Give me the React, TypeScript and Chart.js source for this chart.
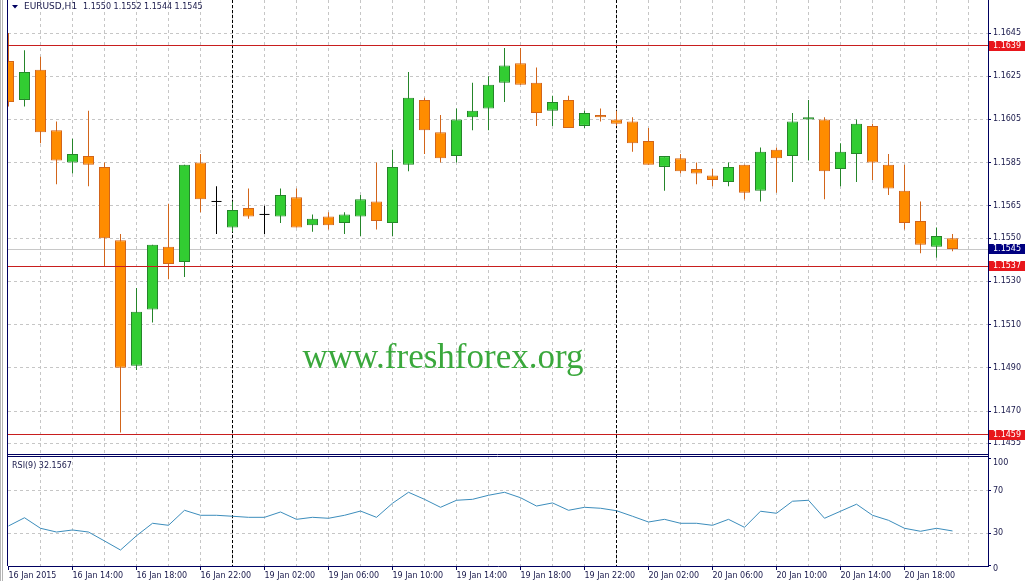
import React, { useEffect, useRef } from 'react';
import { Chart, registerables } from 'chart.js';

Chart.register(...registerables);

// ---------------- data ----------------
const symbolTitle = 'EURUSD,H1';
const lastBarQuote = ['1.1550', '1.1552', '1.1544', '1.1545'];
const rsiTitle = 'RSI(9) 32.1567';
const watermarkText = 'www.freshforex.org';

const opens = [1.1632, 1.1614, 1.1628, 1.1600, 1.1585, 1.1588, 1.1583, 1.1549, 1.1491, 1.1517, 1.1546, 1.1539, 1.1585, 1.1567, 1.1555, 1.1564, 1.1561, 1.1560, 1.1569, 1.1556, 1.1560, 1.1557, 1.1560, 1.1567, 1.1557, 1.1584, 1.1614, 1.1599, 1.1588, 1.1606, 1.1610, 1.1622, 1.1631, 1.1622, 1.1609, 1.1614, 1.1602, 1.1607, 1.1605, 1.1604, 1.1595, 1.1583, 1.1587, 1.1582, 1.1579, 1.1576, 1.1584, 1.1572, 1.1591, 1.1588, 1.1605, 1.1605, 1.1582, 1.1589, 1.1602, 1.1584, 1.1572, 1.1558, 1.1546, 1.1550];
const highs = [1.1645, 1.1637, 1.1634, 1.1604, 1.1596, 1.1609, 1.1585, 1.1552, 1.1527, 1.1547, 1.1566, 1.1584, 1.1589, 1.1574, 1.1567, 1.1573, 1.1565, 1.1573, 1.1573, 1.1561, 1.1562, 1.1562, 1.1570, 1.1585, 1.1591, 1.1627, 1.1615, 1.1607, 1.1610, 1.1622, 1.1625, 1.1638, 1.1638, 1.1629, 1.1616, 1.1616, 1.1609, 1.1610, 1.1609, 1.1606, 1.1601, 1.1588, 1.1589, 1.1585, 1.1582, 1.1585, 1.1584, 1.1592, 1.1592, 1.1608, 1.1614, 1.1606, 1.1594, 1.1605, 1.1603, 1.1589, 1.1584, 1.1567, 1.1555, 1.1552];
const lows = [1.1611, 1.1611, 1.1594, 1.1575, 1.1580, 1.1574, 1.1537, 1.1460, 1.1489, 1.1511, 1.1531, 1.1532, 1.1562, 1.1552, 1.1553, 1.1559, 1.1552, 1.1557, 1.1555, 1.1553, 1.1554, 1.1552, 1.1551, 1.1554, 1.1551, 1.1581, 1.1589, 1.1585, 1.1585, 1.1600, 1.1600, 1.1613, 1.1621, 1.1602, 1.1602, 1.1601, 1.1601, 1.1604, 1.1602, 1.1590, 1.1584, 1.1572, 1.1580, 1.1575, 1.1574, 1.1574, 1.1568, 1.1567, 1.1571, 1.1576, 1.1586, 1.1568, 1.1574, 1.1576, 1.1577, 1.1570, 1.1554, 1.1543, 1.1541, 1.1544];
const closes = [1.1613, 1.1627, 1.1599, 1.1586, 1.1589, 1.1584, 1.1550, 1.1490, 1.1516, 1.1547, 1.1538, 1.1584, 1.1568, 1.1567, 1.1563, 1.1560, 1.1561, 1.1570, 1.1555, 1.1559, 1.1556, 1.1561, 1.1568, 1.1558, 1.1583, 1.1615, 1.1600, 1.1587, 1.1605, 1.1609, 1.1621, 1.1630, 1.1621, 1.1608, 1.1613, 1.1601, 1.1608, 1.1606, 1.1603, 1.1594, 1.1584, 1.1588, 1.1581, 1.1580, 1.1577, 1.1583, 1.1571, 1.1590, 1.1587, 1.1604, 1.1606, 1.1581, 1.1590, 1.1603, 1.1585, 1.1573, 1.1557, 1.1547, 1.1551, 1.1545];
const rsiValues = [36.9, 44.6, 34.7, 31.2, 33.1, 31.2, 22.8, 14.3, 27.7, 39.4, 37.5, 51.6, 46.9, 46.9, 46.0, 45.0, 45.0, 50.0, 43.1, 45.0, 44.1, 46.9, 50.9, 45.0, 58.2, 68.5, 61.9, 54.4, 61.0, 61.9, 65.7, 68.5, 63.4, 55.6, 58.5, 51.6, 54.4, 53.5, 51.2, 46.0, 40.6, 43.1, 39.4, 39.4, 37.5, 43.1, 35.6, 50.7, 48.8, 60.1, 61.0, 44.1, 50.7, 57.3, 46.9, 42.2, 34.7, 31.9, 34.7, 32.2];

const timeTickBars = [0, 4, 8, 12, 16, 20, 24, 28, 32, 36, 40, 44, 48, 52, 56];
const timeTickLabels = ['16 Jan 2015', '16 Jan 14:00', '16 Jan 18:00', '16 Jan 22:00', '19 Jan 02:00', '19 Jan 06:00', '19 Jan 10:00', '19 Jan 14:00', '19 Jan 18:00', '19 Jan 22:00', '20 Jan 02:00', '20 Jan 06:00', '20 Jan 10:00', '20 Jan 14:00', '20 Jan 18:00'];
const gridBarStep = 2;
const daySeparatorBars = [14, 38];
const priceTicks = [1.1645, 1.1625, 1.1605, 1.1585, 1.1565, 1.1550, 1.1530, 1.1510, 1.1490, 1.1470, 1.1455];
const rsiTicks = [100, 70, 30, 0];
const rsiGridLevels = [70, 30];
const levelPrices = [1.1639, 1.1537, 1.1459];
const currentPrice = 1.1545;

const priceMin = 1.144963;
const priceMax = 1.166028;
const rsiMin = -0.7;
const rsiMax = 103.5;
const barMin = -0.03125;
const barMax = 61.21875;

// ---------------- styles ----------------
const FONT = '"DejaVu Sans"';
const NAVY = '#000060';
const TEXT = '#18184a';
const GRID = '#c6c6c6';
const GREEN_FILL = '#32cd32';
const GREEN_LINE = '#25852a';
const ORANGE_FILL = '#ff8c00';
const ORANGE_LINE = '#d2651a';
const LEVEL_LINE = '#c81e1e';
const LEVEL_BOX = '#e8161b';
const RSI_COLOR = '#3c8dbc';

export default function App() {
  const ref = useRef<HTMLCanvasElement>(null);

  useEffect(() => {
    const canvas = ref.current;
    if (!canvas) return;
    const idx = opens.map((_, i) => i);
    const isDoji = (i: number) => opens[i] === closes[i];
    const isUp = (i: number) => closes[i] > opens[i];
    const bodyIdx = idx.filter((i) => !isDoji(i));
    const dojiIdx = idx.filter((i) => isDoji(i));
    const gridBars: number[] = [];
    for (let b = 0; b <= barMax; b += gridBarStep) gridBars.push(b);

    const noPad = (s: any) => {
      s.paddingTop = 0;
      s.paddingBottom = 0;
      s.paddingLeft = 0;
      s.paddingRight = 0;
    };

    const plugin = {
      id: 'mt4',
      beforeDraw(chart: any) {
        const { ctx, width, height } = chart;
        ctx.save();
        ctx.fillStyle = '#ffffff';
        ctx.fillRect(0, 0, width, height);
        ctx.restore();
      },
      beforeDatasetsDraw(chart: any) {
        const { ctx, chartArea, scales } = chart;
        const x = scales.x;
        const y = scales.y;
        ctx.save();
        // watermark
        ctx.font = '35px "Liberation Serif"';
        ctx.fillStyle = '#3aa83c';
        ctx.textAlign = 'center';
        ctx.textBaseline = 'alphabetic';
        ctx.fillText(watermarkText, 443, 368);
        // current price line
        const cp = Math.round(y.getPixelForValue(currentPrice) - 0.5) + 0.5;
        ctx.strokeStyle = '#c8c8c8';
        ctx.lineWidth = 1;
        ctx.beginPath();
        ctx.moveTo(chartArea.left, cp);
        ctx.lineTo(chartArea.right, cp);
        ctx.stroke();
        // day separators
        ctx.strokeStyle = '#000000';
        ctx.setLineDash([3, 2]);
        for (const b of daySeparatorBars) {
          const px = Math.round(x.getPixelForValue(b) - 0.5) + 0.5;
          ctx.beginPath();
          ctx.moveTo(px, chartArea.top);
          ctx.lineTo(px, chartArea.bottom);
          ctx.stroke();
        }
        ctx.restore();
      },
      afterDatasetsDraw(chart: any) {
        const { ctx, chartArea, scales } = chart;
        const y = scales.y;
        ctx.save();
        ctx.strokeStyle = LEVEL_LINE;
        ctx.lineWidth = 1;
        for (const p of levelPrices) {
          const py = Math.round(y.getPixelForValue(p) - 0.5) + 0.5;
          ctx.beginPath();
          ctx.moveTo(chartArea.left, py);
          ctx.lineTo(chartArea.right, py);
          ctx.stroke();
        }
        ctx.restore();
      },
      afterDraw(chart: any) {
        const { ctx, chartArea, scales } = chart;
        const y = scales.y;
        const y2 = scales.y2;
        ctx.save();
        // window edge
        ctx.fillStyle = '#b4b4b4';
        ctx.fillRect(0, 0, 1, chart.height);
        ctx.fillRect(2, 0, 1, chart.height);
        // left border
        ctx.strokeStyle = NAVY;
        ctx.lineWidth = 1;
        ctx.beginPath();
        ctx.moveTo(chartArea.left - 0.5, chartArea.top);
        ctx.lineTo(chartArea.left - 0.5, chartArea.bottom);
        ctx.stroke();
        // panel separator
        const sep = y.bottom;
        ctx.beginPath();
        ctx.moveTo(chartArea.left - 1, Math.round(sep) - 0.5);
        ctx.lineTo(chartArea.right, Math.round(sep) - 0.5);
        ctx.moveTo(chartArea.left - 1, Math.round(sep) + 1.5);
        ctx.lineTo(chartArea.right, Math.round(sep) + 1.5);
        ctx.stroke();

        ctx.textBaseline = 'middle';
        ctx.textAlign = 'left';
        // header
        ctx.fillStyle = NAVY;
        ctx.beginPath();
        ctx.moveTo(12, 5);
        ctx.lineTo(18, 5);
        ctx.lineTo(15, 8.5);
        ctx.closePath();
        ctx.fill();
        ctx.fillStyle = TEXT;
        ctx.font = `9px ${FONT}`;
        ctx.fillText(symbolTitle, 24, 7);
        ctx.font = `8px ${FONT}`;
        ctx.fillText(lastBarQuote.join(' '), 83, 7);
        ctx.fillText(rsiTitle, 12, 466);

        // RSI axis labels
        for (const v of rsiTicks) {
          let py = y2.getPixelForValue(v);
          if (v === rsiTicks[0]) py += 4;
          if (v === rsiTicks[rsiTicks.length - 1]) py += 3.5;
          ctx.fillStyle = TEXT;
          ctx.fillText(String(v), chartArea.right + 5, py);
        }

        // level price boxes
        const drawBox = (p: number, bg: string) => {
          const py = y.getPixelForValue(p);
          const top = Math.round(py) - 5;
          ctx.fillStyle = bg;
          ctx.fillRect(chartArea.right + 1, top, 36, 10);
          ctx.fillStyle = '#ffffff';
          ctx.fillText(p.toFixed(4), chartArea.right + 5, top + 5);
        };
        drawBox(currentPrice, '#000080');
        for (const p of levelPrices) drawBox(p, LEVEL_BOX);
        ctx.restore();
      },
    };

    const chart = new Chart(canvas, {
      type: 'line',
      data: {
        datasets: [
          {
            type: 'bar',
            label: 'wicks',
            data: idx.map((i) => ({ x: i, y: [lows[i], highs[i]] })) as any,
            backgroundColor: idx.map((i) => (isDoji(i) ? '#000000' : isUp(i) ? GREEN_LINE : ORANGE_LINE)),
            borderWidth: 0,
            barThickness: 1,
            grouped: false,
            inflateAmount: 0,
            yAxisID: 'y',
            xAxisID: 'x',
            order: 3,
          } as any,
          {
            type: 'bar',
            label: 'bodies',
            data: bodyIdx.map((i) => ({ x: i, y: [opens[i], closes[i]] })) as any,
            backgroundColor: bodyIdx.map((i) => (isUp(i) ? GREEN_FILL : ORANGE_FILL)),
            borderColor: bodyIdx.map((i) => (isUp(i) ? GREEN_LINE : ORANGE_LINE)),
            borderWidth: 1,
            borderSkipped: false,
            barThickness: 11,
            grouped: false,
            inflateAmount: 0,
            yAxisID: 'y',
            xAxisID: 'x',
            order: 2,
          } as any,
          {
            type: 'scatter',
            label: 'doji',
            data: dojiIdx.map((i) => ({ x: i, y: opens[i] })),
            pointStyle: 'line',
            pointRadius: 5,
            pointBorderColor: '#000000',
            pointBorderWidth: 1,
            showLine: false,
            yAxisID: 'y',
            xAxisID: 'x',
            order: 1,
          } as any,
          {
            type: 'line',
            label: 'RSI',
            data: rsiValues.map((v, i) => ({ x: i, y: v })),
            borderColor: RSI_COLOR,
            borderWidth: 1,
            pointRadius: 0,
            tension: 0,
            fill: false,
            yAxisID: 'y2',
            xAxisID: 'x',
            order: 1,
          } as any,
        ],
      },
      options: {
        responsive: false,
        animation: false,
        devicePixelRatio: 1,
        events: [],
        layout: { autoPadding: false, padding: { left: 8, right: 0, top: 0, bottom: 0 } },
        plugins: { legend: { display: false }, tooltip: { enabled: false } },
        scales: {
          x: {
            type: 'linear',
            position: 'bottom',
            min: barMin,
            max: barMax,
            offset: false,
            afterBuildTicks: (s: any) => {
              s.ticks = gridBars.map((v) => ({ value: v }));
            },
            afterFit: (s: any) => {
              s.height = 15;
              noPad(s);
            },
            grid: {
              offset: false,
              color: (c: any) => (c.tick && c.tick.value === 0 ? 'rgba(0,0,0,0)' : GRID),
              lineWidth: 1,
              tickLength: 4,
              tickColor: (c: any) =>
                c.tick && timeTickBars.includes(c.tick.value) ? NAVY : 'rgba(0,0,0,0)',
            },
            border: { display: true, color: NAVY, width: 1, dash: [3, 3] },
            ticks: {
              autoSkip: false,
              maxRotation: 0,
              minRotation: 0,
              align: 'start',
              padding: 1,
              labelOffset: 0,
              color: TEXT,
              font: { family: FONT, size: 8 },
              callback: (v: any) => {
                const k = timeTickBars.indexOf(Number(v));
                return k >= 0 ? timeTickLabels[k] : '';
              },
            },
          },
          y: {
            type: 'linear',
            position: 'right',
            stack: 'panels',
            stackWeight: 455,
            min: priceMin,
            max: priceMax,
            afterBuildTicks: (s: any) => {
              s.ticks = priceTicks.map((v) => ({ value: v }));
            },
            afterFit: (s: any) => {
              s.width = 41;
              noPad(s);
            },
            grid: { color: GRID, lineWidth: 1, tickLength: 3, tickColor: NAVY },
            border: { display: true, color: NAVY, width: 1, dash: [3, 3] },
            ticks: {
              autoSkip: false,
              padding: 2,
              color: TEXT,
              font: { family: FONT, size: 8 },
              callback: (v: any) => Number(v).toFixed(4),
            },
          },
          y2: {
            type: 'linear',
            position: 'right',
            stack: 'panels',
            stackWeight: 111,
            min: rsiMin,
            max: rsiMax,
            afterBuildTicks: (s: any) => {
              s.ticks = rsiTicks.map((v) => ({ value: v }));
            },
            afterFit: (s: any) => {
              s.width = 41;
              noPad(s);
            },
            grid: {
              color: (c: any) =>
                c.tick && rsiGridLevels.includes(c.tick.value) ? GRID : 'rgba(0,0,0,0)',
              lineWidth: 1,
              tickLength: 3,
              tickColor: NAVY,
            },
            border: { display: true, color: NAVY, width: 1, dash: [3, 3] },
            ticks: { display: false },
          },
        },
      } as any,
      plugins: [plugin],
    });
    return () => chart.destroy();
  }, []);

  return (
    <div style={{ position: 'fixed', left: 0, top: 0, width: 1029, height: 581, background: '#ffffff' }}>
      <canvas ref={ref} width={1029} height={581} style={{ display: 'block', width: 1029, height: 581 }} />
    </div>
  );
}
